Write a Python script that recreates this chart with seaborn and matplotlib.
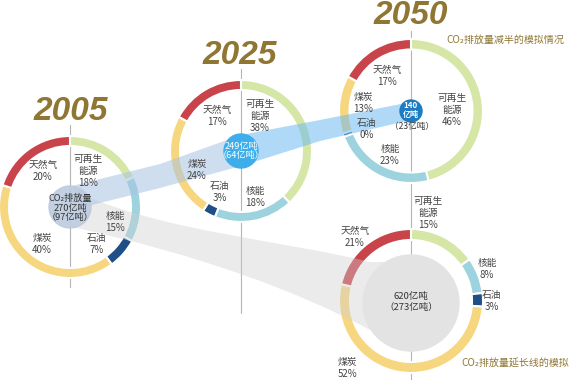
import matplotlib
matplotlib.use("Agg")
import matplotlib.pyplot as plt
import seaborn as sns
from matplotlib.patches import Circle, PathPatch
from matplotlib.path import Path

# 能源结构（顺时针，从12点开始）
sources = ["可再生\n能源", "核能", "石油", "煤炭", "天然气"]
share_2005 = [18, 15, 7, 40, 20]
share_2025 = [38, 18, 3, 24, 17]
share_2050 = [46, 23, 0, 13, 17]
share_ext = [15, 8, 3, 52, 21]

years = ["2005", "2025", "2050"]
co2_total = ["270亿吨", "249亿吨", "140亿吨", "620亿吨"]
co2_sub = ["97亿吨", "64亿吨", "23亿吨", "273亿吨"]

sns.set_theme(style="white")
plt.rcParams["font.family"] = ["Noto Sans CJK SC", "DejaVu Sans"]

colors = sns.color_palette(["#d5e6a7", "#9dd3de", "#1f4f86", "#f7d680", "#c9444a"])
gold = "#8f7633"
txt = "#444444"

fig = plt.figure(figsize=(5.7, 3.8), dpi=100)
ax = fig.add_axes([0, 0, 1, 1])

# 圆环位置（像素坐标，y 向下）
donuts = [
    (share_2005, (70, 207), 71, 10),
    (share_2025, (241, 151), 71, 10),
    (share_2050, (411, 111), 72, 10.5),
    (share_ext, (411, 301), 72, 11),
]

# 标签偏移
label_off = [
    [(18, -36), (45, 15), (27, 37), (-28, 37), (-27, -36)],
    [(19, -35), (14, 46), (-21, 41), (-44, 19), (-24, -35)],
    [(41, -1), (-21, 44), (-44, 18), (-48, -8), (-24, -35)],
    [(17, -88), (76, -32), (81, 0), (-64, 67), (-56, -64)],
]

# 竖线
ax.plot([70, 70], [125, 287], color="#b5b5b5", lw=0.8, zorder=0)
ax.plot([241, 241], [69, 313], color="#b5b5b5", lw=0.8, zorder=0)
ax.plot([411, 411], [31, 380], color="#b5b5b5", lw=0.8, zorder=0)

for vals, (cx, cy), r, w in donuts:
    drawn = [max(v, 0.8) for v in vals]
    ax.pie(drawn, colors=colors, center=(cx, cy), radius=r,
           startangle=-90, counterclock=True,
           wedgeprops=dict(width=w, edgecolor="white", linewidth=1.5),
           frame=True)

# 灰色延长带
verts = [(86, 196), (170, 232), (280, 240), (370, 262),
         (411, 262), (411, 345), (370, 330),
         (300, 292), (200, 255), (72, 227), (86, 196)]
codes = [Path.MOVETO, Path.CURVE4, Path.CURVE4, Path.CURVE4,
         Path.LINETO, Path.LINETO, Path.LINETO,
         Path.CURVE4, Path.CURVE4, Path.CURVE4, Path.CLOSEPOLY]
ax.add_patch(PathPatch(Path(verts, codes), facecolor="#cfcfcf", alpha=0.4, lw=0, zorder=3))

# 蓝色减半带
b1 = [(72, 186), (160, 164), (241, 135), (241, 166), (160, 188), (80, 208)]
bx, by = zip(*b1)
ax.fill(bx, by, color="#a9c4e2", alpha=0.55, lw=0, zorder=3)
b2 = [(241, 135), (320, 120), (411, 102), (411, 120), (320, 141), (241, 166)]
bx, by = zip(*b2)
ax.fill(bx, by, color="#6dbbf0", alpha=0.55, lw=0, zorder=3)

# 中心圆
ax.add_patch(Circle((70, 207), 21, color="#bccbdf", alpha=0.9, zorder=4))
ax.add_patch(Circle((241, 151), 17, color="#3daee9", zorder=4))
ax.add_patch(Circle((411, 111), 11, color="#1b7cc3", zorder=4))
ax.add_patch(Circle((411, 303), 48, color="#e3e3e3", zorder=4))

ax.text(70, 208, "CO₂排放量\n" + co2_total[0] + "\n（" + co2_sub[0] + "）",
        ha="center", va="center", fontsize=6.6, color="#333333", linespacing=1.1, zorder=5)
ax.text(241, 151, co2_total[1] + "\n（" + co2_sub[1] + "）",
        ha="center", va="center", fontsize=6.6, color="white", linespacing=1.1, zorder=5)
ax.text(411, 110, co2_total[2].replace("亿", "\n亿"),
        ha="center", va="center", fontsize=5.8, color="white", linespacing=1.0,
        fontweight="bold", zorder=5)
ax.text(412, 127, "（" + co2_sub[2] + "）", ha="center", va="center",
        fontsize=6.2, color="#333333", zorder=5)
ax.text(411, 302, co2_total[3] + "\n（" + co2_sub[3] + "）",
        ha="center", va="center", fontsize=6.8, color="#333333", linespacing=1.25, zorder=5)

# 分项标签
for (vals, (cx, cy), r, w), offs in zip(donuts, label_off):
    for name, v, (dx, dy) in zip(sources, vals, offs):
        ax.text(cx + dx, cy + dy, f"{name}\n{v}%", ha="center", va="center",
                fontsize=7, color=txt, linespacing=1.3, zorder=6)

# 年份
for yr, (x, y) in zip(years, [(71, 112), (240, 55), (411, 15)]):
    ax.text(x, y, yr, ha="center", va="center", fontsize=24, color=gold,
            fontweight="bold", fontstyle="italic", family="Liberation Sans", zorder=6)

ax.text(564, 40, "CO₂排放量减半的模拟情况", ha="right", va="center",
        fontsize=7.2, color=gold, zorder=6)
ax.text(569, 363, "CO₂排放量延长线的模拟", ha="right", va="center",
        fontsize=7.2, color=gold, zorder=6)

ax.set_xlim(0, 570)
ax.set_ylim(380, 0)
ax.set_aspect("equal")
ax.axis("off")

fig.savefig("out.png", dpi=100)
